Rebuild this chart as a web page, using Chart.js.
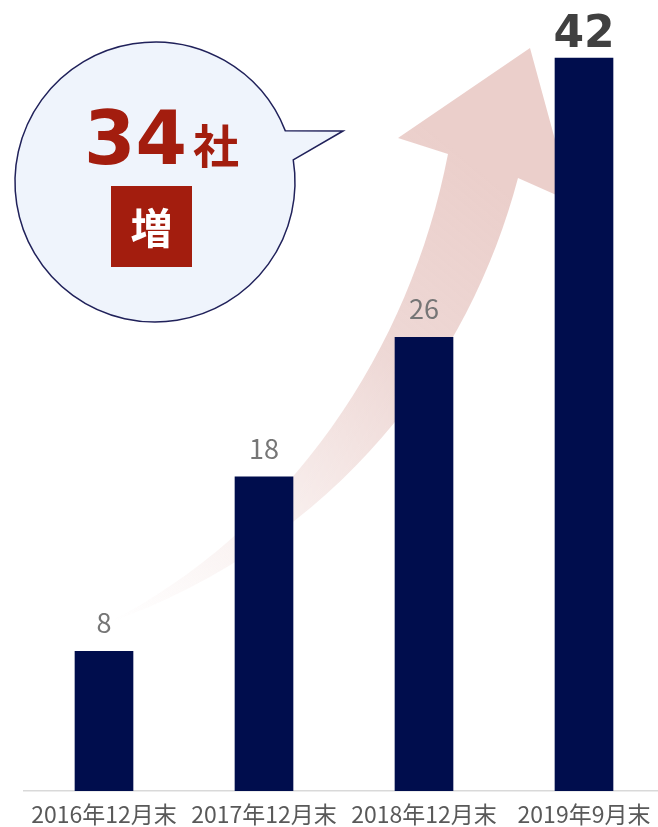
<!DOCTYPE html>
<html lang="ja">
<head>
<meta charset="utf-8">
<script src="https://cdn.jsdelivr.net/npm/chart.js@4/dist/chart.umd.min.js"></script>
<style>
  html, body { margin: 0; padding: 0; background: #fff; overflow: hidden; }
  #wrap { width: 666px; height: 827px; }
</style>
</head>
<body>
<div id="wrap"><canvas id="companyChart" width="666" height="827"></canvas></div>
<script>
// chart data
const categories = ['2016年12月末', '2017年12月末', '2018年12月末', '2019年9月末'];
const companyCounts = [8, 18, 26, 42];
const yAxisMax = 45.33;

const barColor = '#000d4d';
const accentRed = '#a31d0e';
const jpFont = '"Noto Sans CJK JP", "Noto Sans", sans-serif';

// pink growth arrow behind the bars
const arrowPlugin = {
    id: 'growthArrow',
    beforeDatasetsDraw(chart) {
        const ctx = chart.ctx;
        ctx.save();
        const grad = ctx.createLinearGradient(110, 620, 480, 170);
        grad.addColorStop(0, 'rgba(236,210,207,0)');
        grad.addColorStop(0.3, 'rgba(238,214,211,0.35)');
        grad.addColorStop(0.65, 'rgba(236,212,209,0.9)');
        grad.addColorStop(1, 'rgba(235,207,203,1)');
        ctx.fillStyle = grad;
        ctx.beginPath();
        ctx.moveTo(106, 624);
        ctx.bezierCurveTo(290, 530, 410, 350, 448, 154);
        ctx.lineTo(398, 138);
        ctx.lineTo(530, 48);
        ctx.lineTo(572, 202);
        ctx.lineTo(518, 178);
        ctx.bezierCurveTo(470, 360, 340, 540, 106, 624);
        ctx.closePath();
        ctx.fill();
        ctx.restore();
    }
};

// value labels above bars
const valueLabelPlugin = {
    id: 'valueLabels',
    afterDatasetsDraw(chart) {
        const ctx = chart.ctx;
        const meta = chart.getDatasetMeta(0);
        const last = meta.data.length - 1;
        ctx.save();
        ctx.textAlign = 'center';
        ctx.textBaseline = 'alphabetic';
        meta.data.forEach((bar, i) => {
            const v = chart.data.datasets[0].data[i];
            if (i === last) {
                ctx.font = 'bold 44px "DejaVu Sans", sans-serif';
                ctx.fillStyle = '#404040';
                ctx.fillText(String(v), bar.x, bar.y - 11);
            } else {
                ctx.font = '27px ' + jpFont;
                ctx.fillStyle = '#767676';
                ctx.fillText(String(v), bar.x, bar.y - 18);
            }
        });
        ctx.restore();
    }
};

// speech bubble with the increase
const bubblePlugin = {
    id: 'increaseBubble',
    afterDraw(chart) {
        const ctx = chart.ctx;
        const cx = 155, cy = 182, r = 140;
        const a1 = Math.atan2(131 - cy, 285 - cx);
        const a2 = Math.atan2(160 - cy, 293 - cx);
        ctx.save();
        ctx.beginPath();
        ctx.moveTo(343, 131);
        ctx.lineTo(cx + r * Math.cos(a2), cy + r * Math.sin(a2));
        ctx.arc(cx, cy, r, a2, a1 + Math.PI * 2, false);
        ctx.closePath();
        ctx.fillStyle = '#eff4fc';
        ctx.fill();
        ctx.lineWidth = 1.5;
        ctx.strokeStyle = '#20215a';
        ctx.stroke();

        const increase = companyCounts[companyCounts.length - 1] - companyCounts[0];
        ctx.fillStyle = accentRed;
        ctx.textBaseline = 'alphabetic';
        ctx.textAlign = 'left';
        ctx.font = 'bold 74px "DejaVu Sans", sans-serif';
        const numText = String(increase);
        ctx.fillText(numText, 84, 164);
        const w = ctx.measureText(numText).width;
        ctx.font = 'bold 46px ' + jpFont;
        ctx.fillText('社', 84 + w + 6, 163);

        // red box
        ctx.fillRect(111, 186, 81, 81);
        ctx.fillStyle = '#ffffff';
        ctx.font = 'bold 42px ' + jpFont;
        ctx.textAlign = 'center';
        ctx.textBaseline = 'middle';
        ctx.fillText('増', 151.5, 228);
        ctx.restore();
    }
};

const ctx = document.getElementById('companyChart').getContext('2d');
new Chart(ctx, {
    type: 'bar',
    data: {
        labels: categories,
        datasets: [{
            data: companyCounts,
            backgroundColor: barColor,
            barThickness: 58
        }]
    },
    options: {
        responsive: false,
        animation: false,
        layout: { padding: { left: 24, right: 2, top: 0, bottom: 0 } },
        plugins: {
            legend: { display: false },
            tooltip: { enabled: false }
        },
        scales: {
            x: {
                grid: { display: false, drawTicks: false },
                border: { display: true, color: '#d9d9d9', width: 1.5 },
                ticks: {
                    color: '#595959',
                    font: { family: jpFont, size: 23 },
                    padding: 9,
                    maxRotation: 0,
                    autoSkip: false
                },
                afterFit(scale) { scale.height = 36; }
            },
            y: {
                display: false,
                min: 0,
                max: yAxisMax
            }
        }
    },
    plugins: [arrowPlugin, valueLabelPlugin, bubblePlugin]
});
</script>
</body>
</html>
